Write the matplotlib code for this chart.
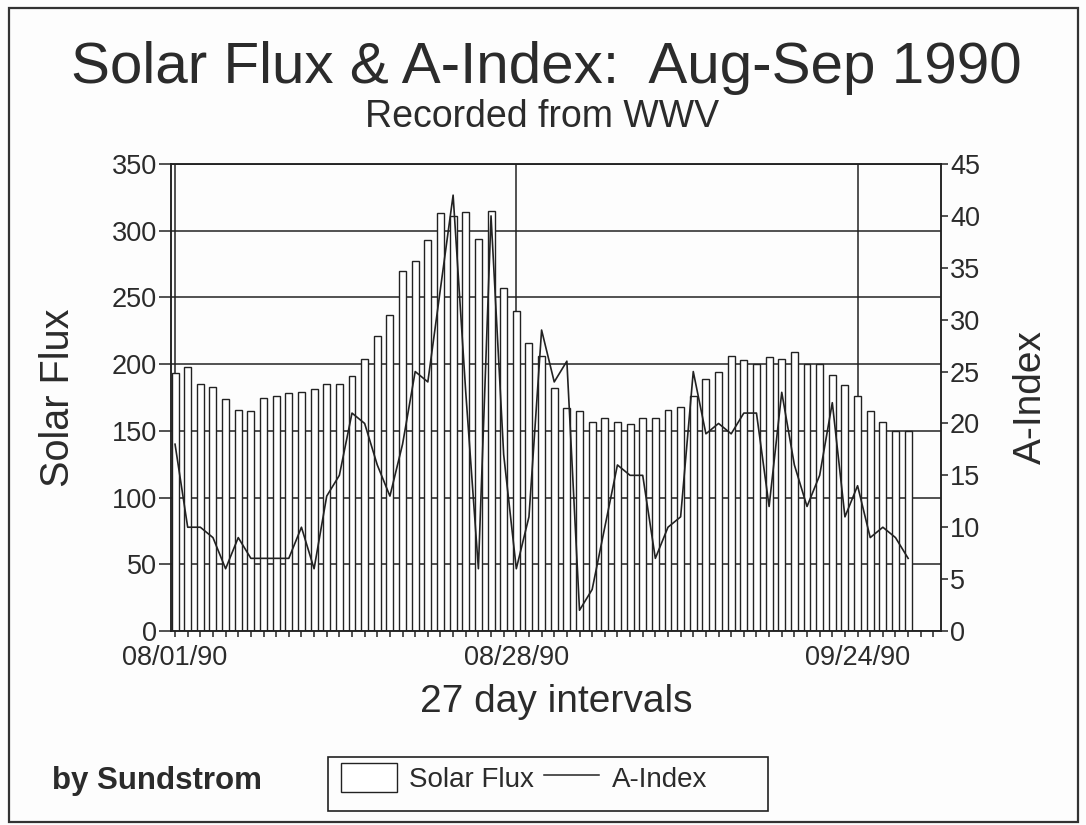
import matplotlib
matplotlib.use('Agg')
import matplotlib.pyplot as plt
from matplotlib.patches import Rectangle, Patch
from matplotlib.lines import Line2D

plt.rcParams['font.family'] = ['Liberation Sans', 'DejaVu Sans']

# ---- data (daily, starting 08/01/90) ----
solar_flux = [193, 198, 185, 183, 174, 166, 165, 175, 176, 178,
              179, 181, 185, 185, 191, 204, 221, 237, 270, 277,
              293, 313, 311, 314, 294, 315, 257, 240, 216, 206,
              182, 167, 165, 157, 160, 157, 155, 160, 160, 166,
              168, 176, 189, 194, 206, 203, 200, 205, 204, 209,
              200, 200, 192, 184, 176, 165, 157, 150, 150]
a_index = [18, 10, 10, 9, 6, 9, 7, 7, 7, 7,
           10, 6, 13, 15, 21, 20, 16, 13, 18, 25,
           24, 33, 42, 23, 6, 40, 17, 6, 11, 29,
           24, 26, 2, 4, 10, 16, 15, 15, 7, 10,
           11, 25, 19, 20, 19, 21, 21, 12, 23, 16,
           12, 15, 22, 11, 14, 9, 10, 9, 7]
n_days = 61                      # 08/01/90 .. 09/30/90
tick_days = [0, 27, 54]
tick_labels = ['08/01/90', '08/28/90', '09/24/90']
flux_ticks = [0, 50, 100, 150, 200, 250, 300, 350]
a_ticks = [0, 5, 10, 15, 20, 25, 30, 35, 40, 45]

days = list(range(len(solar_flux)))

# ---- style ----
TXT = '#2b2b2b'
LN = '#222222'
W, H = 1086, 825

fig = plt.figure(figsize=(W / 100, H / 100), dpi=100)
fig.patch.set_facecolor('#fdfdfd')

ax = fig.add_axes([171 / W, 1 - 631 / H, 770 / W, 467 / H])
ax.set_facecolor('#fdfdfd')
ax.bar(days, solar_flux, width=0.55, color='white', edgecolor=LN,
       linewidth=1.0, zorder=2)
ax.set_xlim(-0.32, 60.6)
ax.set_ylim(0, 350)
ax.set_yticks(flux_ticks)
ax.set_xticks(tick_days)
ax.set_xticklabels(tick_labels)
ax.set_xticks(range(n_days), minor=True)
ax.set_axisbelow(True)
ax.grid(True, which='major', color=LN, linewidth=1.1)
for s in ax.spines.values():
    s.set_color(LN)
    s.set_linewidth(1.1)
ax.tick_params(axis='y', which='major', direction='out', length=9, width=1.1,
               pad=1, labelsize=19.5, colors=LN, labelcolor=TXT)
ax.tick_params(axis='x', which='both', direction='out', length=4, width=1.1,
               pad=6, labelsize=19.5, colors=LN, labelcolor=TXT)

ax.set_xlabel('27 day intervals', fontsize=28, color=TXT)
ax.xaxis.set_label_coords(0.5, -(712 - 631) / 467)
ax.xaxis.label.set_va('baseline')
ax.set_ylabel('Solar Flux', fontsize=28.5, color=TXT)
ax.yaxis.set_label_coords((58 - 171) / 770, 0.5)
ax.yaxis.label.set_va('center')

ax2 = ax.twinx()
ax2.plot(days, a_index, color=LN, linewidth=1.2, zorder=3)
ax2.set_ylim(0, 45)
ax2.set_yticks(a_ticks)
ax2.tick_params(axis='y', direction='out', length=5, width=1.1, pad=1.5,
                labelsize=19.5, colors=LN, labelcolor=TXT)
for s in ax2.spines.values():
    s.set_color(LN)
    s.set_linewidth(1.1)
ax2.set_ylabel('A-Index', fontsize=28, color=TXT, rotation=90)
ax2.yaxis.set_label_coords((1031 - 171) / 770, 0.5)
ax2.yaxis.label.set_va('center')
ax2.yaxis.label.set_ha('center')

# ---- titles & annotations ----
fig.text(546 / W, 1 - 83 / H, 'Solar Flux & A-Index:  Aug-Sep 1990',
         ha='center', va='baseline', fontsize=42, color=TXT)
fig.text(542 / W, 1 - 127 / H, 'Recorded from WWV',
         ha='center', va='baseline', fontsize=27, color=TXT)
fig.text(52 / W, 1 - 789 / H, 'by Sundstrom', ha='left', va='baseline',
         fontsize=22.5, fontweight='bold', color=TXT)

# ---- legend ----
handles = [Patch(facecolor='white', edgecolor=LN, linewidth=1.0, label='Solar Flux'),
           Line2D([], [], color=LN, linewidth=1.1, label='A-Index')]
fig.legend(handles=handles, loc='center left', ncol=2, frameon=False,
           bbox_to_anchor=(341 / W, 1 - 778 / H), bbox_transform=fig.transFigure,
           borderpad=0, borderaxespad=0, fontsize=20, handlelength=2.0,
           handleheight=1.2, handletextpad=0.45, columnspacing=0.35,
           labelcolor=TXT)
fig.add_artist(Rectangle((328 / W, 1 - 811 / H), 440 / W, 54 / H,
                         transform=fig.transFigure, fill=False,
                         edgecolor=LN, linewidth=1.2))

# ---- outer frame ----
fig.add_artist(Rectangle((9 / W, 1 - 822 / H), (1078 - 9) / W, (822 - 8) / H,
                         transform=fig.transFigure, fill=False,
                         edgecolor='#333333', linewidth=1.6))

fig.savefig('out.png', dpi=100, facecolor=fig.get_facecolor())
